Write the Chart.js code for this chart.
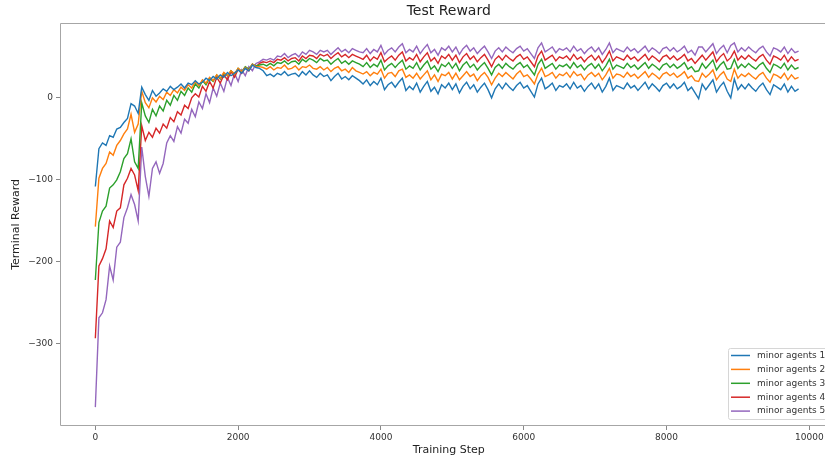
<!DOCTYPE html>
<html>
<head>
<meta charset="utf-8">
<script src="https://cdn.jsdelivr.net/npm/chart.js@4.4.0/dist/chart.umd.min.js"></script>
<style>
    html, body { margin: 0; padding: 0; background: #fff; overflow: hidden; }
    #wrap { width: 825px; height: 459px; overflow: hidden; }
    #rewardChart { display: block; }
</style>
</head>
<body>
<div id="wrap"><canvas id="rewardChart" width="860" height="459"></canvas></div>
<script>
/* global Chart */

const steps = [
    0, 50, 100, 150, 200, 250, 300, 350, 400, 450, 500, 550, 600, 650, 700, 750, 800, 850, 900, 950,
    1000, 1050, 1100, 1150, 1200, 1250, 1300, 1350, 1400, 1450, 1500, 1550, 1600, 1650, 1700, 1750, 1800, 1850, 1900, 1950,
    2000, 2050, 2100, 2150, 2200, 2250, 2300, 2350, 2400, 2450, 2500, 2550, 2600, 2650, 2700, 2750, 2800, 2850, 2900, 2950,
    3000, 3050, 3100, 3150, 3200, 3250, 3300, 3350, 3400, 3450, 3500, 3550, 3600, 3650, 3700, 3750, 3800, 3850, 3900, 3950,
    4000, 4050, 4100, 4150, 4200, 4250, 4300, 4350, 4400, 4450, 4500, 4550, 4600, 4650, 4700, 4750, 4800, 4850, 4900, 4950,
    5000, 5050, 5100, 5150, 5200, 5250, 5300, 5350, 5400, 5450, 5500, 5550, 5600, 5650, 5700, 5750, 5800, 5850, 5900, 5950,
    6000, 6050, 6100, 6150, 6200, 6250, 6300, 6350, 6400, 6450, 6500, 6550, 6600, 6650, 6700, 6750, 6800, 6850, 6900, 6950,
    7000, 7050, 7100, 7150, 7200, 7250, 7300, 7350, 7400, 7450, 7500, 7550, 7600, 7650, 7700, 7750, 7800, 7850, 7900, 7950,
    8000, 8050, 8100, 8150, 8200, 8250, 8300, 8350, 8400, 8450, 8500, 8550, 8600, 8650, 8700, 8750, 8800, 8850, 8900, 8950,
    9000, 9050, 9100, 9150, 9200, 9250, 9300, 9350, 9400, 9450, 9500, 9550, 9600, 9650, 9700, 9750, 9800, 9850
];

const agents1 = [
    -108, -62, -55, -58, -46, -48, -38, -36, -30, -25, -7, -10, -19, 13, 4, -3, 9, 2, 6, 11,
    8, 14, 10, 13, 17, 12, 18, 16, 21, 17, 19, 24, 21, 26, 23, 28, 25, 31, 27, 30,
    34, 30, 36, 33, 40, 37,
    36, 33, 27, 29, 26, 30, 28, 32, 27, 29, 30, 26, 32, 28, 33,
    28, 25, 30, 26, 28, 21, 26, 30, 23, 26, 22, 27, 24, 21,
    17, 22, 15, 20, 16, 24, 10, 16, 19, 13, 19, 24, 9, 14,
    10, 18, 7, 14, 20, 8, 13, 5, 16, 12, 18, 10, 17, 6, 14, 19, 11, 16, 7, 13, 18, 10, 0, 11,
    17, 11, 18, 13, 9, 15, 19, 12, 15, 8, 1, 17, 24, 11, 14, 18, 9, 15,
    13, 17, 11, 19, 12, 15, 8, 14, 18, 11, 17, 7, 14, 24, 9, 15, 13, 11, 18, 12,
    15, 9, 14, 19, 11, 17, 13, 8, 15, 18, 12, 17, 11, 14, 19, 9, 13, 6,
    -1, 17, 10, 16, 22, 7, 14, 19, 8, 0, 23, 10, 16, 11, 17, 12, 8, 14, 18, 10,
    4, 16, 13, 10, 17, 7, 14, 8, 11
];

const agents2 = [
    -157, -98, -86, -80, -66, -70, -58, -52, -44, -38, -20, -42, -32, 8, -6, -12, 0, -5, 2, -2,
    7, 3, 10, 6, 13, 9, 16, 12, 20, 15, 22, 18, 25, 21, 28, 24, 31, 27, 33, 29,
    36, 32, 37, 34, 41, 38,
    38, 37, 35, 38, 34, 37, 36, 40, 35, 36, 39, 34, 38, 37, 40,
    36, 35, 38, 34, 37, 32, 36, 38, 33, 35, 31, 37, 33, 31,
    29, 32, 27, 31, 29, 35, 24, 30, 31, 26, 33, 35, 25, 28,
    24, 30, 23, 28, 33, 22, 28, 20, 29, 27, 31, 23, 30, 22, 27, 32, 26, 29, 21, 27, 31, 25, 16, 24,
    30, 26, 31, 27, 23, 29, 33, 26, 28, 23, 17, 29, 36, 26, 28, 31, 24, 29,
    27, 31, 25, 32, 27, 29, 22, 28, 31, 26, 30, 22, 28, 36, 24, 29, 28, 25, 31, 26,
    29, 24, 28, 32, 25, 30, 27, 23, 29, 31, 27, 30, 25, 28, 32, 24, 27, 21,
    20, 30, 25, 29, 34, 22, 28, 32, 23, 20, 35, 24, 29, 26, 30, 26, 23, 28, 31, 24,
    19, 29, 27, 24, 30, 22, 28, 23, 25
];

const agents3 = [
    -222, -152, -138, -132, -110, -106, -100, -90, -74, -68, -50, -78, -86, -6, -22, -30, -14, -22, -10, -16,
    -3, -9, 3, -3, 8, 3, 12, 7, 17, 12, 21, 16, 24, 20, 28, 23, 30, 27, 33, 29,
    36, 32, 38, 35, 41, 39,
    40, 41, 39, 42, 39, 43, 42, 45, 41, 44, 45, 41, 47, 44, 48,
    46, 43, 48, 45, 46, 41, 45, 48, 42, 45, 41, 45, 43, 41,
    38, 43, 37, 41, 38, 46, 34, 39, 42, 37, 42, 46, 35, 39,
    36, 43, 34, 40, 45, 35, 39, 32, 41, 38, 43, 36, 42, 33, 40, 44, 37, 41, 34, 39, 43, 36, 28, 37,
    41, 36, 42, 38, 35, 40, 43, 37, 40, 34, 28, 41, 47, 36, 39, 42, 35, 40,
    38, 41, 36, 43, 37, 40, 34, 39, 42, 36, 41, 33, 39, 47, 35, 40, 38, 36, 42, 37,
    40, 35, 39, 43, 36, 41, 38, 34, 40, 42, 37, 41, 36, 39, 43, 35, 38, 32,
    33, 42, 36, 41, 46, 34, 40, 44, 35, 36, 47, 36, 41, 37, 42, 38, 35, 40, 43, 36,
    31, 41, 39, 36, 42, 34, 40, 35, 37
];

const agents4 = [
    -293, -205, -196, -184, -150, -158, -138, -134, -106, -98, -86, -94, -113, -34, -52, -42, -48, -37, -43, -32,
    -37, -24, -29, -17, -21, -9, -13, 0, 5, 1, 14, 8, 20, 12, 25, 18, 28, 22, 32, 25,
    35, 30, 37, 33, 41, 38,
    42, 44, 43, 45, 43, 47, 46, 49, 45, 48, 49, 45, 51, 48, 52,
    51, 48, 53, 51, 53, 48, 52, 55, 50, 53, 49, 53, 51, 49,
    47, 52, 45, 50, 47, 55, 44, 48, 51, 46, 52, 56, 45, 49,
    46, 53, 44, 50, 55, 45, 49, 42, 51, 48, 53, 46, 52, 43, 50, 54, 47, 51, 44, 49, 53, 46, 38, 47,
    51, 46, 52, 48, 45, 50, 53, 47, 50, 44, 38, 51, 57, 46, 49, 52, 45, 50,
    48, 51, 46, 53, 47, 50, 44, 49, 52, 46, 51, 43, 49, 57, 45, 50, 48, 46, 52, 47,
    50, 45, 49, 53, 46, 51, 48, 44, 50, 52, 47, 51, 46, 49, 53, 45, 48, 42,
    47, 52, 46, 51, 56, 44, 50, 54, 45, 49, 57, 46, 51, 47, 52, 48, 45, 50, 53, 46,
    41, 51, 49, 46, 52, 44, 50, 45, 47
];

const agents5 = [
    -377, -268, -262, -246, -205, -222, -182, -176, -146, -134, -118, -130, -150, -60, -96, -120, -86, -78, -92, -80,
    -55, -46, -53, -35, -43, -26, -31, -14, -23, -5, -13, 5, -6, 12, 2, 18, 8, 25, 15, 30,
    20, 34, 27, 38, 33, 42,
    44, 47, 46, 48, 46, 51, 50, 54, 49, 52, 54, 50, 56, 53, 58,
    56, 53, 58, 56, 58, 53, 57, 61, 56, 59, 55, 60, 58, 56,
    55, 60, 54, 59, 56, 64, 53, 58, 61, 56, 62, 66, 55, 59,
    56, 63, 54, 60, 65, 55, 59, 52, 61, 58, 63, 56, 62, 53, 60, 64, 57, 61, 54, 59, 63, 56, 48, 57,
    61, 56, 62, 58, 55, 60, 63, 57, 60, 54, 48, 61, 67, 56, 59, 62, 55, 60,
    58, 61, 56, 63, 57, 60, 54, 59, 62, 56, 61, 53, 59, 67, 55, 60, 58, 56, 62, 57,
    60, 55, 59, 63, 56, 61, 58, 54, 60, 62, 57, 61, 56, 59, 63, 55, 58, 52,
    62, 62, 56, 61, 66, 54, 60, 64, 55, 64, 67, 56, 61, 57, 62, 58, 55, 60, 63, 56,
    51, 61, 59, 56, 62, 54, 60, 55, 57
];

const seriesNames = ['minor agents 1', 'minor agents 2', 'minor agents 3', 'minor agents 4', 'minor agents 5'];
const seriesColors = ['#1f77b4', '#ff7f0e', '#2ca02c', '#d62728', '#9467bd'];
const xTicks = [0, 2000, 4000, 6000, 8000, 10000];
const yTicks = [-300, -200, -100, 0];

const FONT = "'DejaVu Sans', sans-serif";
Chart.defaults.font.family = FONT;

function toPoints(values) {
    return steps.map((step, i) => ({ x: step, y: values[i] }));
}

function formatTick(value) {
    return value < 0 ? '\u2212' + Math.abs(value) : String(value);
}

// axes box drawn like matplotlib spines
const framePlugin = {
    id: 'frame',
    afterDatasetsDraw(chart) {
        const { ctx, chartArea: a } = chart;
        const l = Math.round(a.left) + 0.5;
        const t = Math.round(a.top) + 0.5;
        const r = Math.round(a.right) - 0.5;
        const b = Math.round(a.bottom) - 0.5;
        ctx.save();
        ctx.strokeStyle = '#a6a6a6';
        ctx.lineWidth = 1;
        ctx.beginPath();
        ctx.moveTo(l, t);
        ctx.lineTo(r, t);
        ctx.lineTo(r, b);
        ctx.lineTo(l, b);
        ctx.closePath();
        ctx.stroke();
        ctx.restore();
    }
};

// legend sits inside the axes, lower right
const innerLegend = {
    id: 'innerLegend',
    afterDraw(chart) {
        const { ctx } = chart;
        const left = 728.5;
        const top = 348.5;
        const w = 104;
        const h = 71;
        ctx.save();
        ctx.beginPath();
        ctx.roundRect(left, top, w, h, 2);
        ctx.fillStyle = 'rgba(255,255,255,0.85)';
        ctx.fill();
        ctx.strokeStyle = '#d6d6d6';
        ctx.lineWidth = 1;
        ctx.stroke();
        ctx.font = `9px ${FONT}`;
        ctx.textBaseline = 'middle';
        chart.data.datasets.forEach((ds, i) => {
            const y = 355.5 + i * 13.9;
            ctx.strokeStyle = ds.borderColor;
            ctx.lineWidth = 1.5;
            ctx.beginPath();
            ctx.moveTo(731, y);
            ctx.lineTo(750, y);
            ctx.stroke();
            ctx.fillStyle = '#333';
            ctx.fillText(ds.label, 757, y);
        });
        ctx.restore();
    }
};

const allSeries = [agents1, agents2, agents3, agents4, agents5];

new Chart(document.getElementById('rewardChart'), {
    type: 'line',
    data: {
        datasets: allSeries.map((values, i) => ({
            label: seriesNames[i],
            data: toPoints(values),
            borderColor: seriesColors[i],
            borderWidth: 1.4,
            pointRadius: 0,
            tension: 0,
            fill: false
        }))
    },
    options: {
        responsive: false,
        animation: false,
        events: [],
        layout: { padding: { left: 0, right: 22.5, top: 0, bottom: 0 } },
        plugins: {
            legend: { display: false },
            tooltip: { enabled: false },
            title: {
                display: true,
                text: 'Test Reward',
                fullSize: false,
                color: '#222',
                font: { size: 14, weight: 'normal', lineHeight: 1.2 },
                padding: { top: 3, bottom: 3 }
            }
        },
        scales: {
            x: {
                type: 'linear',
                min: -495,
                max: 10395,
                afterFit: scale => { scale.height = 33; },
                afterBuildTicks: scale => { scale.ticks = xTicks.map(v => ({ value: v })); },
                grid: { drawOnChartArea: false, drawTicks: true, tickLength: 4, tickColor: '#888' },
                border: { display: false },
                ticks: {
                    color: '#333',
                    font: { size: 9 },
                    padding: 2,
                    maxRotation: 0,
                    autoSkip: false,
                    callback: value => formatTick(value)
                },
                title: {
                    display: true,
                    text: 'Training Step',
                    color: '#222',
                    font: { size: 11 },
                    padding: { top: 0, bottom: 2 }
                }
            },
            y: {
                min: -400,
                max: 91.5,
                afterFit: scale => { scale.width = 60; },
                afterBuildTicks: scale => { scale.ticks = yTicks.map(v => ({ value: v })); },
                grid: { drawOnChartArea: false, drawTicks: true, tickLength: 4, tickColor: '#888' },
                border: { display: false },
                ticks: {
                    color: '#333',
                    font: { size: 9 },
                    padding: 3,
                    callback: value => formatTick(value)
                },
                title: {
                    display: true,
                    text: 'Terminal Reward',
                    color: '#222',
                    font: { size: 11 },
                    padding: { top: 10, bottom: 0 }
                }
            }
        }
    },
    plugins: [framePlugin, innerLegend]
});
</script>
</body>
</html>
